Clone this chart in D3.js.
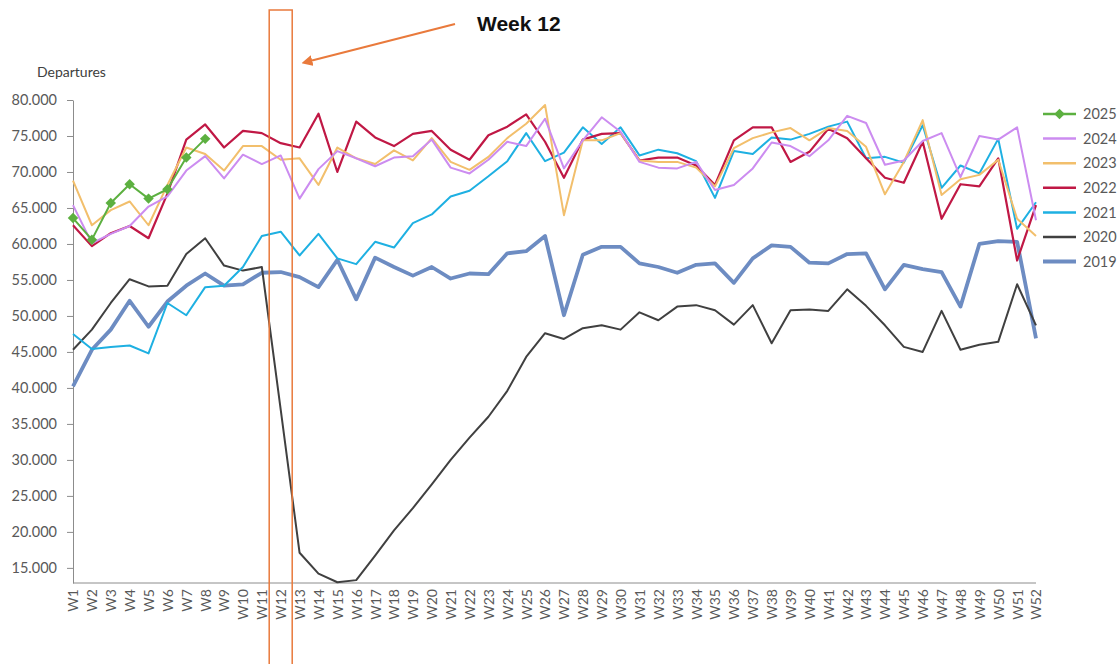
<!doctype html>
<html>
<head>
    <style>
        body { margin: 0; background: #fff; }
        svg text { font-family: Lato, "Open Sans", sans-serif; fill: #595959; }
        .axis path, .axis line { stroke: #8c8c8c; }
        .line { fill: none; stroke-linejoin: round; }
    </style>
    <script src="https://d3js.org/d3.v7.min.js"></script>
</head>
<body>
<script>

    var weeks = d3.range(1, 53).map(function (i) { return "W" + i; });
    var yTicks = [15000, 20000, 25000, 30000, 35000, 40000, 45000, 50000, 55000, 60000, 65000, 70000, 75000, 80000];

    var y2025 = [63600, 60600, 65700, 68300, 66300, 67600, 72000, 74600];
    var y2024 = [65400, 60100, 61400, 62500, 65200, 66600, 70200, 72200, 69100, 72400, 71100, 72300, 66300, 70400, 72900, 71900, 70800, 72000, 72200, 74500,
        70600, 69800, 71700, 74200, 73600, 77400, 70500, 74400, 77600, 75600, 71400, 70600, 70500, 71400, 67500, 68200, 70500, 74100, 73600, 72200,
        74400, 77800, 76800, 71000, 71600, 74300, 75400, 69300, 75000, 74500, 76200, 63300];
    var y2023 = [68800, 62600, 64700, 65900, 62600, 68200, 73400, 72500, 70200, 73600, 73600, 71700, 71900, 68200, 73400, 71900, 71100, 73000, 71600, 74700,
        71400, 70300, 72100, 74700, 76700, 79300, 64000, 74400, 74400, 75400, 71600, 71400, 71400, 70600, 68000, 73300, 74700, 75500, 76100, 74400,
        76100, 75700, 73500, 66900, 71400, 77200, 66800, 69000, 69600, 71700, 63500, 61100];
    var y2022 = [62600, 59700, 61500, 62500, 60800, 67000, 74500, 76600, 73400, 75700, 75400, 74000, 73400, 78100, 70000, 77000, 74800, 73600, 75300, 75700,
        73100, 71700, 75100, 76300, 78000, 74200, 69200, 74500, 75300, 75400, 71600, 72000, 72000, 70900, 68200, 74400, 76200, 76200, 71400, 72800,
        76000, 74700, 71900, 69200, 68500, 74200, 63500, 68300, 68000, 71900, 57700, 65400];
    var y2021 = [47500, 45400, 45700, 45900, 44800, 51800, 50100, 54000, 54200, 56800, 61100, 61700, 58400, 61400, 58000, 57200, 60300, 59500, 62900, 64100,
        66600, 67400, 69400, 71500, 75400, 71500, 72700, 76200, 73900, 76200, 72300, 73100, 72600, 71500, 66400, 72900, 72500, 74800, 74500, 75300,
        76300, 77000, 71900, 72100, 71300, 76500, 67800, 70900, 69800, 74600, 62100, 65800];
    var y2020 = [45300, 48100, 51800, 55100, 54100, 54200, 58600, 60800, 57000, 56300, 56800, 37000, 17100, 14200, 13000, 13300, 16700, 20200, 23300, 26600,
        30000, 33100, 36000, 39600, 44300, 47600, 46800, 48300, 48700, 48100, 50500, 49400, 51300, 51500, 50800, 48800, 51500, 46200, 50800, 50900,
        50700, 53700, 51400, 48700, 45700, 45000, 50700, 45300, 46000, 46400, 54400, 48700];
    var y2019 = [40200, 45300, 48100, 52100, 48500, 52000, 54200, 55900, 54200, 54400, 56000, 56100, 55400, 54000, 57800, 52300, 58100, 56800, 55600, 56800,
        55200, 55900, 55800, 58700, 59000, 61100, 50100, 58500, 59600, 59600, 57300, 56800, 56000, 57100, 57300, 54600, 58000, 59800, 59600, 57400,
        57300, 58600, 58700, 53700, 57100, 56500, 56100, 51300, 60000, 60400, 60300, 46900];

    var seriesNames = ["2025", "2024", "2023", "2022", "2021", "2020", "2019"];
    var seriesValues = [y2025, y2024, y2023, y2022, y2021, y2020, y2019];
    var seriesColors = ["#5cb040", "#cc8cf0", "#f2bf6c", "#c01845", "#1eb0e2", "#404040", "#6d8cc2"];
    var seriesWidths = [2, 2, 2, 2.2, 2, 2, 3.8];

    var width = 1120, height = 664;

    var svg = d3.select("body").append("svg")
        .attr("width", width)
        .attr("height", height);

    var x = d3.scalePoint().domain(weeks).range([73, 1036]);
    var y = d3.scaleLinear().domain([12900, 80000]).range([583, 100]);

    var fmt = function (d) { return d3.format(",")(d).replace(/,/g, "."); };

    // y axis
    var yAxis = svg.append("g").attr("class", "axis")
        .attr("transform", "translate(73,0)")
        .call(d3.axisLeft(y).tickValues(yTicks).tickFormat(fmt).tickSize(6).tickSizeOuter(0));
    yAxis.selectAll("text").style("font-size", "14.5px").attr("x", -16);

    // x axis
    var xAxis = svg.append("g").attr("class", "axis")
        .attr("transform", "translate(0,583)")
        .call(d3.axisBottom(x).tickSize(0).tickSizeOuter(0));
    xAxis.select("path").attr("d", "M73,0H1036");
    xAxis.selectAll("text")
        .style("font-size", "14px")
        .attr("transform", "rotate(-90)")
        .attr("text-anchor", "end")
        .attr("x", -6)
        .attr("y", 0)
        .attr("dy", "0.35em");

    svg.append("text")
        .attr("x", 37).attr("y", 77)
        .style("font-size", "14px")
        .style("fill", "#404040")
        .text("Departures");

    var line = d3.line()
        .x(function (d, i) { return x(weeks[i]); })
        .y(function (d) { return y(d); });

    // draw oldest first so 2025 is on top
    for (var k = seriesNames.length - 1; k >= 0; k--) {
        svg.append("path")
            .attr("class", "line")
            .attr("d", line(seriesValues[k]))
            .attr("stroke", seriesColors[k])
            .attr("stroke-width", seriesWidths[k]);
    }

    var diamond = d3.symbol().type(d3.symbolDiamond2).size(70);
    svg.selectAll(".mk")
        .data(y2025)
        .enter().append("path")
        .attr("class", "mk")
        .attr("d", diamond)
        .attr("fill", seriesColors[0])
        .attr("transform", function (d, i) { return "translate(" + x(weeks[i]) + "," + y(d) + ")"; });

    // legend
    var leg = svg.selectAll(".leg")
        .data(seriesNames)
        .enter().append("g")
        .attr("class", "leg")
        .attr("transform", function (d, i) { return "translate(1043," + (114 + i * 24.6) + ")"; });
    leg.append("line")
        .attr("x1", 0).attr("x2", 33)
        .attr("stroke", function (d, i) { return seriesColors[i]; })
        .attr("stroke-width", function (d, i) { return i == 6 ? 4 : 2.5; });
    leg.filter(function (d, i) { return i == 0; })
        .append("path")
        .attr("d", diamond)
        .attr("fill", seriesColors[0])
        .attr("transform", "translate(16.5,0)");
    leg.append("text")
        .attr("x", 40)
        .attr("dy", "0.36em")
        .style("font-size", "14.5px")
        .text(function (d) { return d; });

    // week 12 highlight
    var wk = "W12";
    svg.append("rect")
        .attr("x", x(wk) - 11.5).attr("y", 10)
        .attr("width", 23).attr("height", 670)
        .attr("fill", "none")
        .attr("stroke", "#e97a3c")
        .attr("stroke-width", 1.5);

    svg.append("defs").append("marker")
        .attr("id", "arr")
        .attr("viewBox", "0 0 10 10")
        .attr("refX", 2).attr("refY", 5)
        .attr("markerWidth", 5).attr("markerHeight", 5)
        .attr("orient", "auto")
        .append("path")
        .attr("d", "M0,0L10,5L0,10z")
        .attr("fill", "#e97a3c");

    svg.append("line")
        .attr("x1", 455).attr("y1", 24)
        .attr("x2", 310).attr("y2", 61)
        .attr("stroke", "#e97a3c")
        .attr("stroke-width", 2.2)
        .attr("marker-end", "url(#arr)");

    svg.append("text")
        .attr("x", 477).attr("y", 31)
        .style("font-family", "'Liberation Sans', Arial, sans-serif")
        .style("font-weight", "bold")
        .style("font-size", "21px")
        .style("fill", "#111")
        .text("Week 12");

</script>
</body>
</html>
